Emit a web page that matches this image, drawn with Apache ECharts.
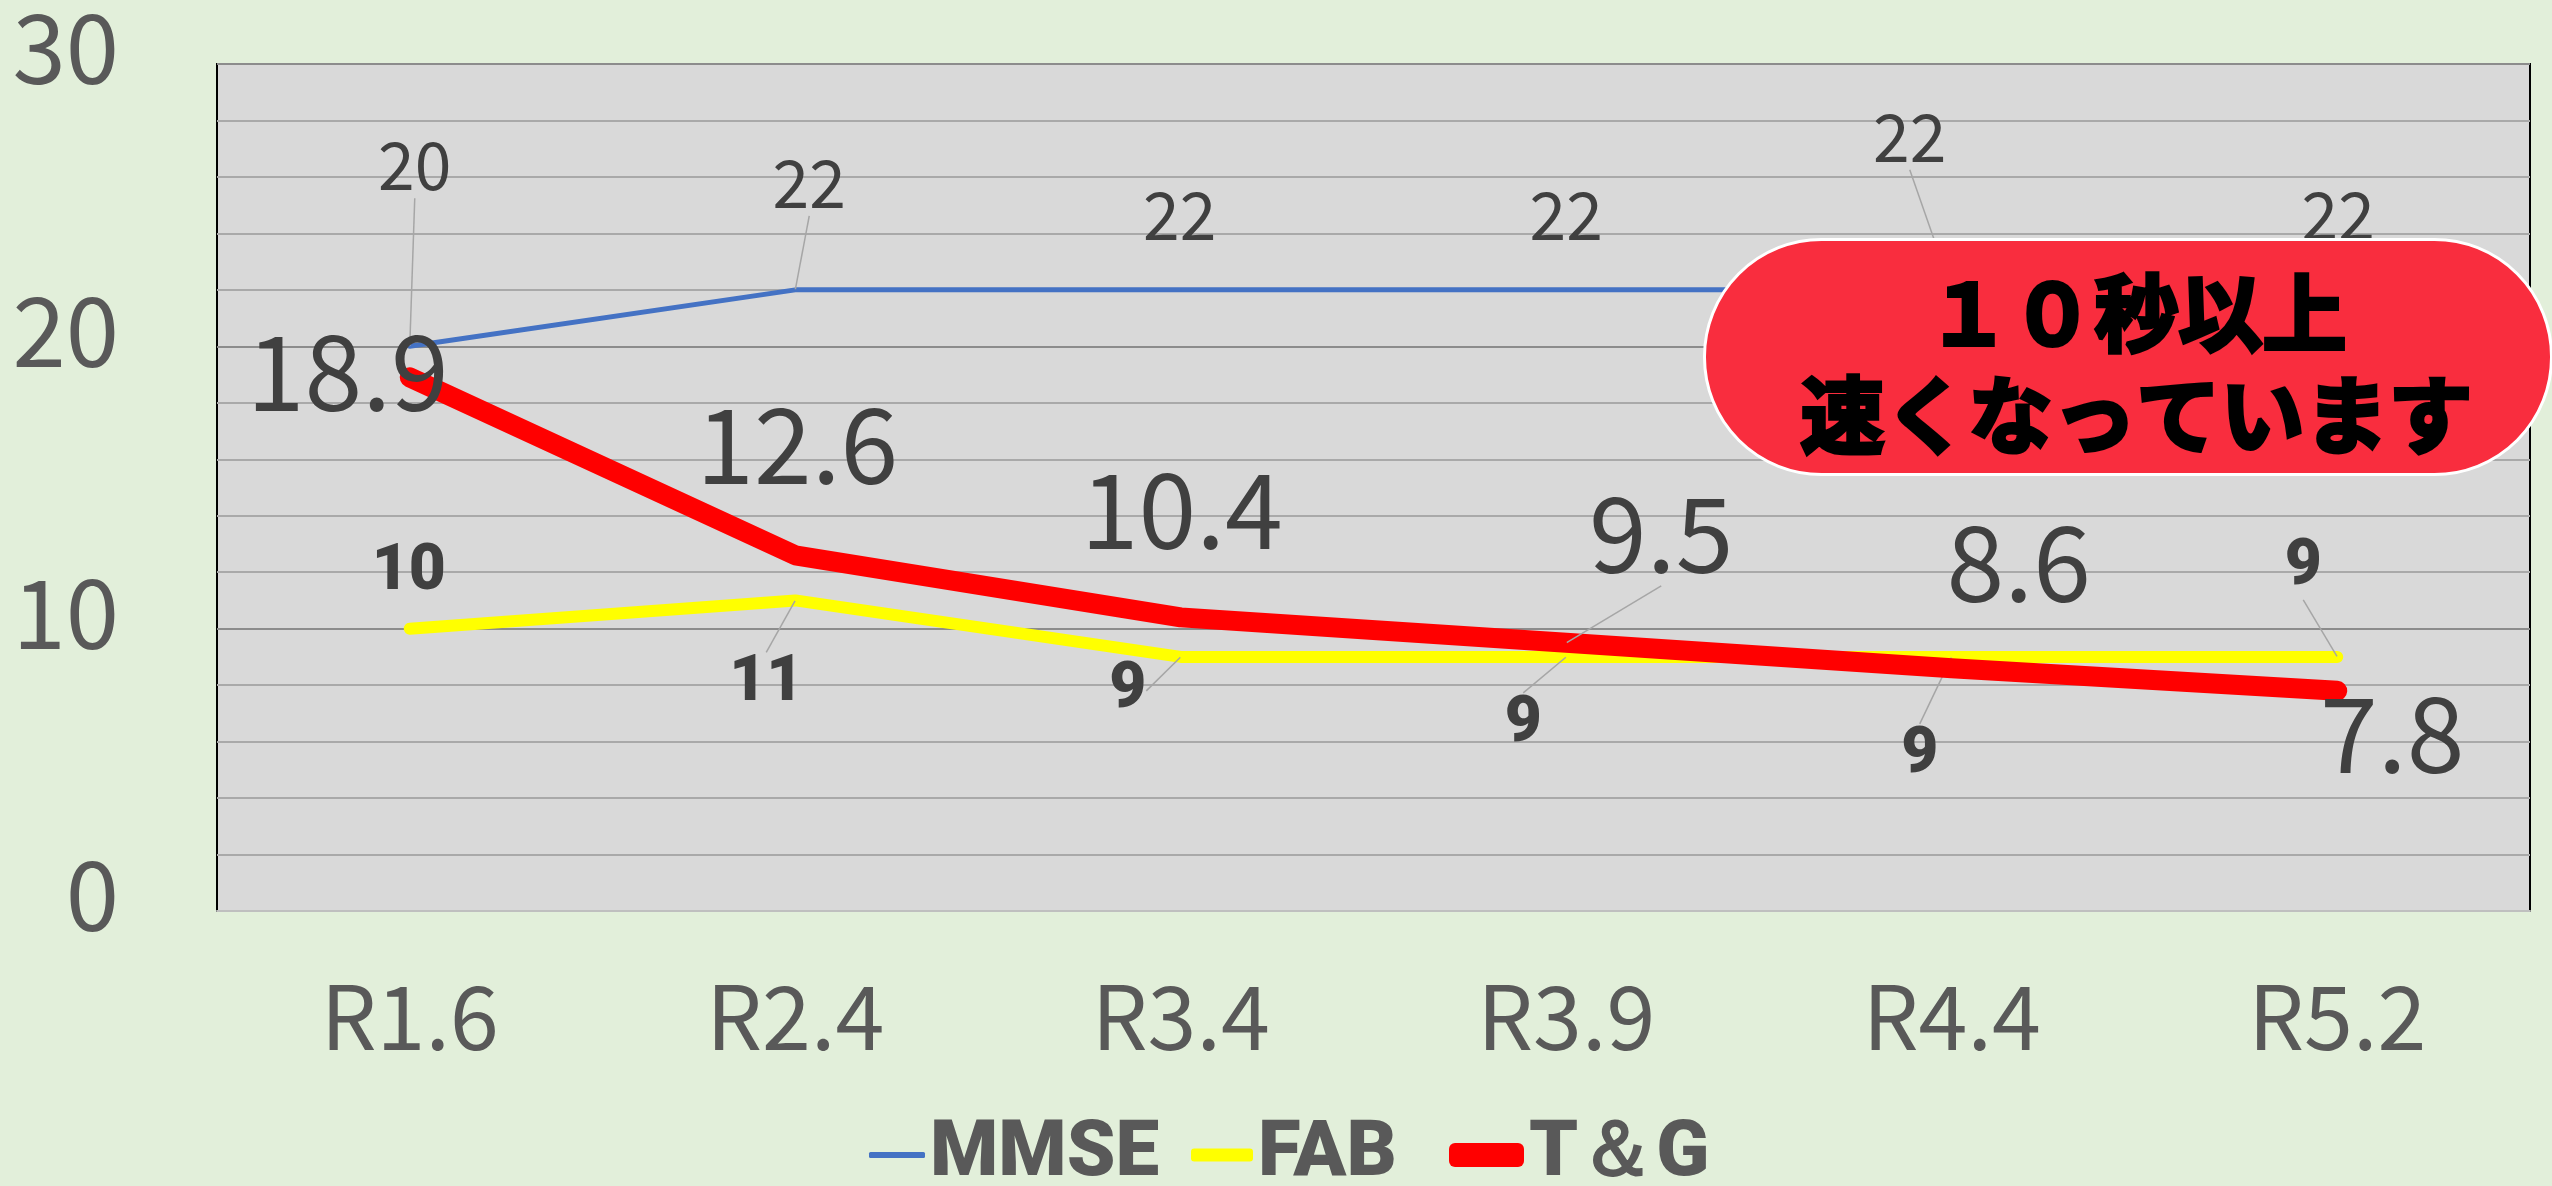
<!DOCTYPE html>
<html>
<head>
<meta charset="utf-8">
<script src="https://cdn.jsdelivr.net/npm/echarts@6/dist/echarts.min.js"></script>
<style>
html,body{margin:0;padding:0;background:#E2EFDA;}
#chart{width:2552px;height:1186px;}
</style>
</head>
<body>
<div id="chart"></div>
<script>
// ---- data ----
const categories = ['R1.6', 'R2.4', 'R3.4', 'R3.9', 'R4.4', 'R5.2'];
const seriesNames = ['MMSE', 'FAB', 'T＆G'];
const mmseValues = [20, 22, 22, 22, 22, 22];
const fabValues = [10, 11, 9, 9, 9, 9];
const tgValues = [18.9, 12.6, 10.4, 9.5, 8.6, 7.8];
const yMin = 0, yMax = 30, yInterval = 10;
const calloutLine1 = '１０秒以上';
const calloutLine2 = '速くなっています';

// ---- label placement (offsets from each point, px) ----
const mmseLabelOffset = [[5,-181],[14,-107],[-1,-75],[0,-75],[-42,-153],[1,-75]];
const mmseLeader = [true, true, false, false, true, false];
const fabLabelOffset = [[-1,-56],[-29,84],[-53,34],[-43,68],[-32,99],[-34,-89]];
const fabLeader = [false, true, true, true, true, true];
const tgLabelOffset = [[-62,-6],[2,-111],[1,-108],[95,-109],[67,-106],[55,43]];
const tgLeader = [false, false, false, true, false, false];

const AXIS_FONT = '"Noto Sans CJK JP", "Noto Sans", sans-serif';
const HEAVY_FONT = 'Roboto, "Noto Sans", sans-serif';

function items(values, leader) {
  return values.map((v, i) => ({ value: v, labelLine: { show: leader[i] } }));
}
function layoutFrom(offsets) {
  return function (p) {
    const o = offsets[p.dataIndex];
    return { dx: o[0], dy: o[1] };
  };
}
const leaderStyle = { show: true, lineStyle: { color: '#A6A6A6', width: 1.5 } };

const chart = echarts.init(document.getElementById('chart'), null, { renderer: 'canvas' });
chart.setOption({
  backgroundColor: '#E2EFDA',
  animation: false,
  grid: {
    left: 217, right: 22, top: 60, bottom: 275,
    show: true, backgroundColor: '#D9D9D9', borderColor: '#000', borderWidth: 2
  },
  xAxis: {
    type: 'category',
    data: categories,
    boundaryGap: true,
    axisLine: { show: true, lineStyle: { color: '#BFBFBF', width: 2 } },
    axisTick: { show: false },
    axisLabel: { color: '#595959', fontSize: 88, fontFamily: AXIS_FONT, margin: 62 }
  },
  yAxis: {
    type: 'value',
    min: yMin, max: yMax, interval: yInterval,
    axisLine: { show: false },
    axisTick: { show: false },
    axisLabel: {
      margin: 98,
      formatter: '{v|{value}}',
      rich: { v: { color: '#595959', fontSize: 96, fontFamily: AXIS_FONT, padding: [0, 0, 32, 0] } }
    },
    splitLine: { show: true, lineStyle: { color: '#8C8C8C', width: 2 } },
    minorTick: { show: false, splitNumber: 5 },
    minorSplitLine: { show: true, lineStyle: { color: '#A9A9A9', width: 2 } }
  },
  legend: [
    { data: [seriesNames[0]], left: 864, top: 1110, icon: 'roundRect', itemWidth: 56, itemHeight: 6, itemGap: 0,
      textStyle: { color: '#595959', fontSize: 78, fontWeight: 900, fontFamily: HEAVY_FONT, lineHeight: 80 } },
    { data: [seriesNames[1]], left: 1186, top: 1110, icon: 'roundRect', itemWidth: 62, itemHeight: 13, itemGap: 0,
      textStyle: { color: '#595959', fontSize: 78, fontWeight: 900, fontFamily: HEAVY_FONT, lineHeight: 80 } },
    { data: [seriesNames[2]], left: 1444, top: 1110, icon: 'roundRect', itemWidth: 75, itemHeight: 24, itemGap: 0,
      textStyle: { color: '#595959', fontSize: 78, fontWeight: 900, fontFamily: HEAVY_FONT, lineHeight: 80 } }
  ],
  series: [
    {
      name: seriesNames[0], type: 'line', data: items(mmseValues, mmseLeader),
      symbol: 'circle', symbolSize: 1, showSymbol: true,
      color: '#4472C4',
      lineStyle: { color: '#4472C4', width: 5, cap: 'round', join: 'round' },
      itemStyle: { color: '#4472C4' },
      label: { show: true, position: 'inside', color: '#404040', fontSize: 66, fontFamily: AXIS_FONT },
      labelLine: leaderStyle,
      labelLayout: layoutFrom(mmseLabelOffset),
      z: 2
    },
    {
      name: seriesNames[1], type: 'line', data: items(fabValues, fabLeader),
      symbol: 'circle', symbolSize: 1, showSymbol: true,
      color: '#FFFF00',
      lineStyle: { color: '#FFFF00', width: 12, cap: 'round', join: 'round' },
      itemStyle: { color: '#FFFF00' },
      label: { show: true, position: 'inside', color: '#404040', fontSize: 64, fontWeight: 900, fontFamily: HEAVY_FONT },
      labelLine: leaderStyle,
      labelLayout: layoutFrom(fabLabelOffset),
      z: 3
    },
    {
      name: seriesNames[2], type: 'line', data: items(tgValues, tgLeader),
      symbol: 'circle', symbolSize: 1, showSymbol: true,
      color: '#FF0000',
      lineStyle: { color: '#FF0000', width: 20, cap: 'round', join: 'round' },
      itemStyle: { color: '#FF0000' },
      label: { show: true, position: 'inside', color: '#404040', fontSize: 104, fontFamily: AXIS_FONT },
      labelLine: leaderStyle,
      labelLayout: layoutFrom(tgLabelOffset),
      z: 4
    }
  ],
  graphic: [
    {
      type: 'group', left: 1703, top: 238, zlevel: 1, z: 100,
      children: [
        { type: 'rect', z: 100, zlevel: 1, shape: { x: 0, y: 0, width: 847, height: 235, r: 117 },
          style: { fill: '#F92D3E', stroke: '#FFFFFF', lineWidth: 3 } },
        { type: 'text', z: 101, zlevel: 1, x: 432, y: 74,
          style: { text: calloutLine1, fill: '#000', stroke: '#000', lineWidth: 4, font: 'bold 84px "Noto Sans CJK JP"', textAlign: 'center', textVerticalAlign: 'middle' } },
        { type: 'text', z: 101, zlevel: 1, x: 432, y: 176,
          style: { text: calloutLine2, fill: '#000', stroke: '#000', lineWidth: 4, font: 'bold 84px "Noto Sans CJK JP"', textAlign: 'center', textVerticalAlign: 'middle' } }
      ]
    }
  ]
});
</script>
</body>
</html>
